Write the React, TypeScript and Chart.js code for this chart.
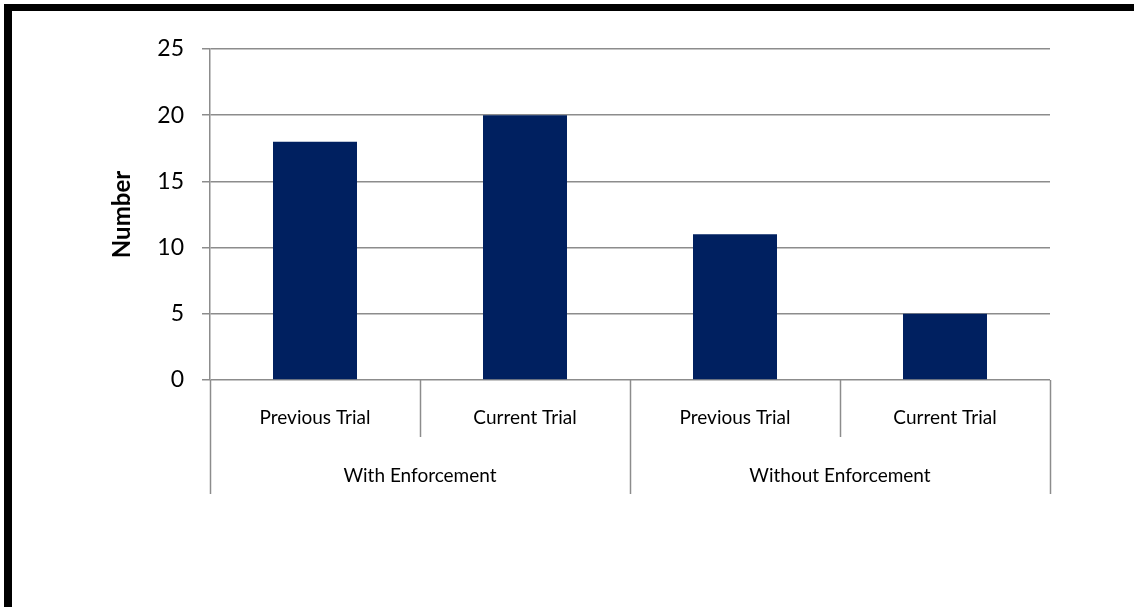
import React, { useEffect, useRef } from "react";
import { Chart, registerables } from "chart.js";

Chart.register(...registerables);

const categories = ["Previous Trial", "Current Trial", "Previous Trial", "Current Trial"];
const groups = ["With Enforcement", "Without Enforcement"];
const groupSizes = [2, 2];
const values = [18, 20, 11, 5];
const yMin = 0;
const yMax = 25;
const yStep = 5;
const yTitle = "Number";

const GRID = "#8c8c8c";
const BAR = "#002060";
const FONT = "Lato, 'Open Sans', sans-serif";

const multiLevelAxis = {
  id: "multiLevelAxis",
  afterDraw(chart: any) {
    const x = chart.scales.x;
    const y = chart.scales.y;
    const ctx = chart.ctx;
    const base = y.getPixelForValue(0);
    const n = categories.length;
    const catW = (x.right - x.left) / n;
    ctx.save();
    ctx.strokeStyle = GRID;
    ctx.lineWidth = 1.5;
    let idx = 0;
    const outerIdx = new Set<number>([0]);
    groupSizes.forEach((s) => {
      idx += s;
      outerIdx.add(idx);
    });
    for (let i = 0; i <= n; i++) {
      const px = Math.round(x.getPixelForValue(i) - catW / 2) + 0.5;
      const len = outerIdx.has(i) ? 114 : 57;
      ctx.beginPath();
      ctx.moveTo(px, base);
      ctx.lineTo(px, base + len);
      ctx.stroke();
    }
    ctx.fillStyle = "#000";
    ctx.textAlign = "center";
    ctx.textBaseline = "middle";
    ctx.font = `19px ${FONT}`;
    categories.forEach((c, i) => {
      ctx.fillText(c, x.getPixelForValue(i), base + 38);
    });
    let start = 0;
    groups.forEach((g, gi) => {
      const s = groupSizes[gi];
      const l = x.getPixelForValue(start) - catW / 2;
      const r = x.getPixelForValue(start + s - 1) + catW / 2;
      ctx.fillText(g, (l + r) / 2, base + 96);
      start += s;
    });
    ctx.restore();
  },
};

export default function App() {
  const ref = useRef<HTMLCanvasElement | null>(null);
  useEffect(() => {
    if (!ref.current) return;
    const chart = new Chart(ref.current, {
      type: "bar",
      data: {
        labels: categories,
        datasets: [
          {
            data: values,
            backgroundColor: BAR,
            borderWidth: 0,
            barPercentage: 0.4,
            categoryPercentage: 1,
          },
        ],
      },
      options: {
        responsive: false,
        animation: false,
        layout: { padding: { left: 0, top: 49, right: 84, bottom: 227 } },
        plugins: { legend: { display: false }, tooltip: { enabled: false } },
        scales: {
          x: { display: false },
          y: {
            min: yMin,
            max: yMax,
            ticks: {
              stepSize: yStep,
              color: "#000",
              padding: 18,
              font: { family: FONT, size: 23 },
            },
            grid: { color: GRID, lineWidth: 1.5, tickLength: 8, drawTicks: true },
            border: { display: true, color: GRID, width: 1.5 },
            title: {
              display: true,
              text: yTitle,
              color: "#000",
              font: { family: FONT, size: 24, weight: "bold" },
              padding: { top: 108, bottom: 0 },
            },
            afterFit(scale: any) {
              scale.width = 210;
            },
          },
        },
      },
      plugins: [multiLevelAxis],
    });
    return () => chart.destroy();
  }, []);
  return (
    <div style={{ position: "fixed", left: 0, top: 0, width: 1134, height: 607, background: "#fff", overflow: "hidden" }}>
      <canvas ref={ref} width={1134} height={607} style={{ display: "block", width: 1134, height: 607 }} />
      <div
        style={{
          position: "absolute",
          left: 4,
          top: 4,
          width: 1140,
          height: 610,
          borderTop: "7px solid #000",
          borderLeft: "8px solid #000",
          pointerEvents: "none",
        }}
      />
    </div>
  );
}
